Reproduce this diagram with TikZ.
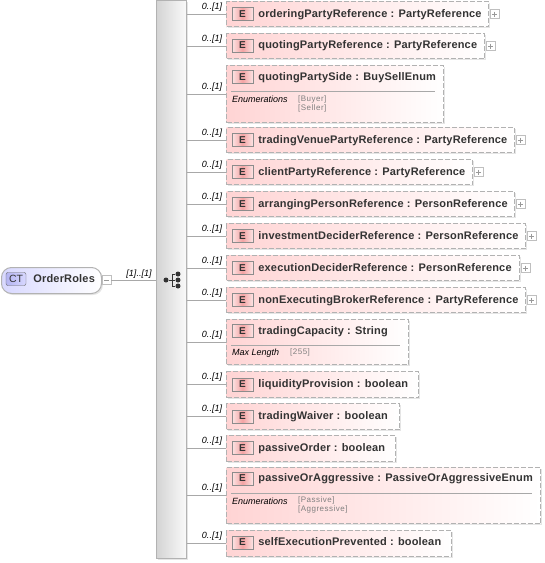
\documentclass[tikz,border=0pt]{standalone}
\usepackage{fontspec}
\setmainfont{Liberation Sans}
\usetikzlibrary{positioning, calc, shadows}
\definecolor{xsInk}{HTML}{333333}
\definecolor{xsEdge}{HTML}{B2B2B2}
\definecolor{xsRule}{HTML}{A8A8A8}
\definecolor{xsPink}{HTML}{FFD4D4}
\definecolor{xsBadge}{HTML}{F4A3A3}
\definecolor{xsBadgeT}{HTML}{FCE4E4}
\definecolor{xsLilac}{HTML}{D8D8FF}
\definecolor{xsCt}{HTML}{B4B4F2}
\definecolor{xsNote}{HTML}{808080}
\newfontfamily\labelfont[LetterSpace=1.6]{Liberation Sans}
\newfontfamily\facetfont[LetterSpace=6]{Liberation Sans}
\tikzset{
  elem/.style  ={draw=xsEdge, dash pattern=on 5pt off 2pt, line width=1.1pt, left color=xsPink, right color=white, anchor=north west, inner sep=0pt, general shadow={fill=black, opacity=0.1, shadow xshift=1.5pt, shadow yshift=-1.5pt}},
  ebadge/.style={draw=black!45, left color=xsBadgeT, right color=xsBadgeT, middle color=xsBadge, minimum width=21pt, minimum height=13pt, inner sep=0pt, font=\fontsize{10}{10}\selectfont\bfseries, text=xsInk},
  elabel/.style={anchor=west, inner sep=0pt, text height=8pt, text depth=2pt, font=\fontsize{11}{11}\labelfont\bfseries, text=xsInk},
  mult/.style  ={inner sep=0pt, font=\fontsize{9}{9}\selectfont\itshape, text=black},
  conn/.style  ={draw=xsRule, line width=0.8pt},
  fact/.style  ={anchor=west, inner sep=0pt, font=\fontsize{9}{9}\selectfont\itshape, text=black},
  facet/.style ={anchor=west, inner sep=0pt, font=\fontsize{8}{8}\facetfont, text=xsNote},
  tick/.style  ={draw=black!25, fill=white, minimum size=9pt, inner sep=0pt},
  seqdot/.style={circle, fill=xsInk, minimum size=5pt, inner sep=0pt},
  seqline/.style={draw=xsInk, line width=0.9pt},
}
% one element box: name, right edge, top, bottom, badge y, text
\newcommand{\elembox}[6]{
  \pgfmathsetmacro{\bw}{#2-226}
  \pgfmathsetmacro{\bh}{#4-#3}
  \node[elem, minimum width=\bw pt, minimum height=\bh pt] (#1) at (226,#3) {};
  \node[ebadge] (#1e) at (242.5,#5) {E};
  \node[elabel, right=5pt of #1e] (#1t) {#6};
  \draw[conn] (spine.east |- #1.west) -- (#1.west);
  \node[mult] (#1m) at ($(#1.west)+(-14,-7)$) {0..[1]};
}
\begin{document}
\begin{tikzpicture}[x=1pt,y=-1pt]
\useasboundingbox (0,0) rectangle (545,563);

% sequence spine
\node[draw=xsEdge, line width=1pt, left color=black!17, right color=black!2, minimum width=30pt, minimum height=558pt, inner sep=0pt, anchor=north west, general shadow={fill=black, opacity=0.1, shadow xshift=1.5pt, shadow yshift=-1.5pt}] (spine) at (156,0) {};

% complex type
\node[draw=xsEdge, line width=1pt, rounded corners=10pt, left color=xsLilac, right color=white, minimum width=100pt, minimum height=26pt, anchor=north west, inner sep=0pt, general shadow={fill=black, opacity=0.1, shadow xshift=1.5pt, shadow yshift=-1.5pt}] (root) at (1,267) {};
\node[draw=black!60, rounded corners=2pt, left color=xsCt, right color=xsLilac, minimum width=20pt, minimum height=13pt, inner sep=0pt, font=\fontsize{10.5}{10.5}\selectfont, text=xsInk] (rootb) at (16,279) {CT};
\node[elabel, right=7pt of rootb] (roott) {OrderRoles};
\node[tick] (rootm) at (106.5,280) {};
\draw[black!40] (104,280) -- (109,280);
\draw[conn] (rootm.east) -- (rootm.east -| spine.west);
\node[mult] (rootc) at (139,274) {[1]..[1]};

% sequence icon
\node[seqdot] (sa) at (166,280) {};
\node[seqdot] (sb) at (178,274) {};
\node[seqdot] (sc) at (178,280) {};
\node[seqdot] (sd) at (178,286) {};
\coordinate (sj) at (172,280);
\draw[seqline] (sa) -- (sc);
\draw[seqline] (sb) -| (sj);
\draw[seqline] (sd) -| (sj);

% ---- plain elements ----
\foreach \nm/\rgt/\yt/\yb/\ye/\txt in {
  e1/488/1/26/14/orderingPartyReference : PartyReference,
  e2/484/33/58/45.5/quotingPartyReference : PartyReference,
  e4/514/127/152/140/tradingVenuePartyReference : PartyReference,
  e5/472/159/184/172/clientPartyReference : PartyReference,
  e6/514/191/216/204/arrangingPersonReference : PersonReference,
  e7/525/223/248/236/investmentDeciderReference : PersonReference,
  e8/519/255/280/268/executionDeciderReference : PersonReference,
  e9/525/287/312/300/nonExecutingBrokerReference : PartyReference,
  e11/418/371/397/384.5/liquidityProvision : boolean,
  e12/399/403/429/416.5/tradingWaiver : boolean,
  e13/395/435/461/448/passiveOrder : boolean,
  e15/451/530/556/542.5/selfExecutionPrevented : boolean}{
  \elembox{\nm}{\rgt}{\yt}{\yb}{\ye}{\txt}
}

% ---- elements with facets ----
\elembox{e3}{443}{65}{122}{77}{quotingPartySide : BuySellEnum}
\draw[conn] (231,91) -- (435,91);
\node[fact] (e3f) at (232,99) {Enumerations};
\node[facet] (e3a) at (298,99) {[Buyer]};
\node[facet, below=1.5pt of e3a.south west, anchor=north west] (e3b) {[Seller]};

\elembox{e10}{408}{319}{364}{331}{tradingCapacity : String}
\draw[conn] (231,345) -- (400,345);
\node[fact] (e10f) at (232,353) {Max Length};
\node[facet] (e10a) at (290,352) {[255]};

\elembox{e14}{540}{467}{523}{478.5}{passiveOrAggressive : PassiveOrAggressiveEnum}
\draw[conn] (231,493) -- (532,493);
\node[fact] (e14f) at (232,501) {Enumerations};
\node[facet] (e14a) at (298,500) {[Passive]};
\node[facet, below=1.5pt of e14a.south west, anchor=north west] (e14b) {[Aggressive]};

% ---- expand ticks ----
\foreach \nm in {e1,e2,e4,e5,e6,e7,e8,e9}{
  \node[tick, right=0.5pt of \nm.east, anchor=west] (\nm p) {};
  \draw[black!40] ($(\nm p.center)+(-2.5,0)$) -- ($(\nm p.center)+(2.5,0)$);
  \draw[black!40] ($(\nm p.center)+(0,-2.5)$) -- ($(\nm p.center)+(0,2.5)$);
}
\end{tikzpicture}
\end{document}
